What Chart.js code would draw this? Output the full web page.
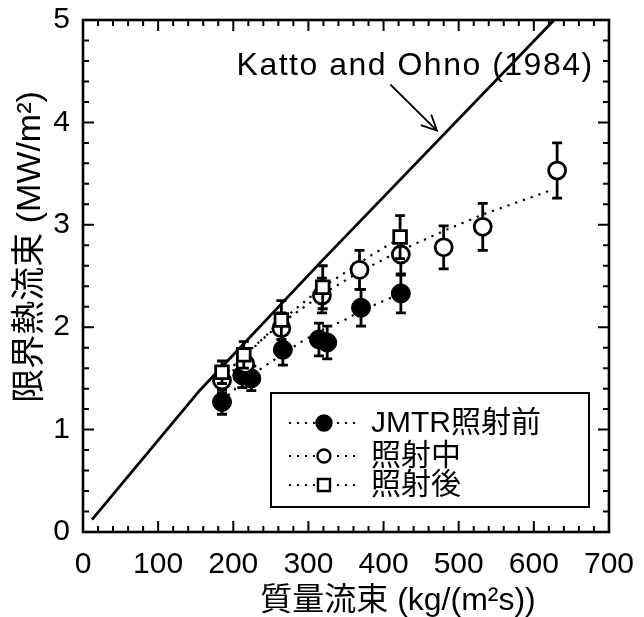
<!DOCTYPE html>
<html>
<head>
<meta charset="utf-8">
<script src="https://cdn.jsdelivr.net/npm/chart.js@4.4.1/dist/chart.umd.min.js"></script>
<style>
  html, body { margin: 0; padding: 0; background: #fff; }
  #wrap { width: 644px; height: 617px; }
</style>
</head>
<body>
<div id="wrap"><canvas id="chf" width="644" height="617"></canvas></div>
<script>
// Mass flux G [kg/(m2 s)] and critical heat flux q [MW/m2]
const beforeG   = [185, 212, 224, 266, 314, 325, 370, 423];
const beforeQ   = [1.27, 1.53, 1.50, 1.78, 1.88, 1.85, 2.19, 2.33];
const beforeErr = [0.12, 0.12, 0.12, 0.15, 0.16, 0.16, 0.18, 0.19];

const duringG   = [185, 216, 264, 318, 368, 423, 480, 532, 631];
const duringQ   = [1.48, 1.64, 1.99, 2.31, 2.56, 2.71, 2.78, 2.98, 3.53];
const duringErr = [0.12, 0.13, 0.15, 0.17, 0.19, 0.20, 0.21, 0.23, 0.27];

const afterG    = [185, 214, 264, 319, 422];
const afterQ    = [1.56, 1.73, 2.07, 2.39, 2.88];
const afterErr  = [0.11, 0.13, 0.19, 0.21, 0.21];

// Fitted trend curves (dotted)
const beforeFitG = [185, 212, 236, 266, 289, 320, 348, 370, 395, 423];
const beforeFitQ = [1.28, 1.46, 1.59, 1.74, 1.85, 1.98, 2.07, 2.16, 2.24, 2.33];
const duringFitG = [185, 216, 264, 318, 368, 423, 480, 532, 620];
const duringFitQ = [1.51, 1.74, 2.04, 2.32, 2.54, 2.75, 2.94, 3.10, 3.33];
const afterFitG  = [185, 214, 238, 264, 288, 319, 348, 383, 422];
const afterFitQ  = [1.45, 1.70, 1.88, 2.06, 2.21, 2.39, 2.53, 2.70, 2.87];

// Katto and Ohno (1984) correlation
const kattoG = [12, 155, 317, 627];
const kattoQ = [0.12, 1.38, 2.64, 5.0];

// Axis ticks
const xTickValues = [0, 100, 200, 300, 400, 500, 600, 700];
const yTickValues = [0, 1, 2, 3, 4, 5];
const xMinorStep = 20;
const yMinorStep = 0.2;

const seriesNames = ['JMTR照射前', '照射中', '照射後'];
const kattoName = 'Katto and Ohno (1984)';
const xTitle = '質量流束 (kg/(m²s))';
const yTitle = '限界熱流束 (MW/m²)';

const FONT = "'Liberation Sans', Arial, 'Noto Sans CJK JP', sans-serif";

const pts = (xs, ys) => xs.map((g, i) => ({ x: g, y: ys[i] }));

const dotted = {
  type: 'line', borderColor: '#000', borderWidth: 2.2, borderDash: [2.2, 6],
  pointRadius: 0, fill: false, tension: 0
};

function drawMarker(ctx, style, filled, r, x, y, lw) {
  ctx.save();
  ctx.lineWidth = lw;
  ctx.strokeStyle = '#000';
  ctx.fillStyle = filled ? '#000' : '#fff';
  ctx.beginPath();
  if (style === 'rect') {
    const s = r * Math.SQRT1_2;
    ctx.rect(x - s, y - s, 2 * s, 2 * s);
  } else {
    ctx.arc(x, y, r, 0, Math.PI * 2);
  }
  ctx.fill();
  ctx.stroke();
  ctx.restore();
}

// vertical error bars with caps, drawn just under each series' markers
const errorBars = {
  id: 'errorBars',
  beforeDatasetDraw(chart, args) {
    const ds = chart.data.datasets[args.index];
    if (!ds.errors) return;
    const { ctx, scales: { x, y } } = chart;
    ctx.save();
    ctx.strokeStyle = '#000';
    ctx.lineWidth = 2.8;
    ctx.beginPath();
    ds.data.forEach((p, i) => {
      const e = ds.errors[i];
      const px = x.getPixelForValue(p.x);
      const top = y.getPixelForValue(p.y + e);
      const bot = y.getPixelForValue(p.y - e);
      ctx.moveTo(px, top); ctx.lineTo(px, bot);
      ctx.moveTo(px - 5, top); ctx.lineTo(px + 5, top);
      ctx.moveTo(px - 5, bot); ctx.lineTo(px + 5, bot);
    });
    ctx.stroke();
    ctx.restore();
  }
};

// boxed frame with inward major/minor ticks on all four sides
const frameTicks = {
  id: 'frameTicks',
  afterDatasetsDraw(chart) {
    const { ctx, chartArea: a, scales: { x, y } } = chart;
    ctx.save();
    ctx.strokeStyle = '#000';
    ctx.lineWidth = 2;
    ctx.beginPath();
    const xMax = xTickValues[xTickValues.length - 1];
    for (let k = 0; k * xMinorStep <= xMax + 1e-9; k++) {
      const v = k * xMinorStep;
      const px = x.getPixelForValue(v);
      const len = xTickValues.includes(v) ? 11 : 6;
      ctx.moveTo(px, a.bottom); ctx.lineTo(px, a.bottom - len);
      ctx.moveTo(px, a.top); ctx.lineTo(px, a.top + len);
    }
    const yMax = yTickValues[yTickValues.length - 1];
    for (let k = 0; k * yMinorStep <= yMax + 1e-9; k++) {
      const v = +(k * yMinorStep).toFixed(3);
      const py = y.getPixelForValue(v);
      const len = yTickValues.includes(v) ? 11 : 6;
      ctx.moveTo(a.left, py); ctx.lineTo(a.left + len, py);
      ctx.moveTo(a.right, py); ctx.lineTo(a.right - len, py);
    }
    ctx.stroke();
    ctx.lineWidth = 2.6;
    ctx.strokeRect(a.left, a.top, a.right - a.left, a.bottom - a.top);
    ctx.restore();
  }
};

// correlation label with arrow, legend box and axis titles
const annotations = {
  id: 'annotations',
  afterDraw(chart) {
    const { ctx, chartArea: a, scales: { x, y } } = chart;
    ctx.save();
    ctx.fillStyle = '#000';
    ctx.strokeStyle = '#000';

    ctx.font = '32px ' + FONT;
    if ('letterSpacing' in ctx) ctx.letterSpacing = '1.5px';
    ctx.textAlign = 'center';
    ctx.textBaseline = 'middle';
    ctx.fillText(kattoName, x.getPixelForValue(442), y.getPixelForValue(4.55));
    if ('letterSpacing' in ctx) ctx.letterSpacing = '0px';
    const ax0 = x.getPixelForValue(409), ay0 = y.getPixelForValue(4.37);
    const ax1 = x.getPixelForValue(471), ay1 = y.getPixelForValue(3.92);
    ctx.lineWidth = 1.8;
    ctx.beginPath();
    ctx.moveTo(ax0, ay0); ctx.lineTo(ax1, ay1);
    const ang = Math.atan2(ay1 - ay0, ax1 - ax0);
    const hl = 17, hw = 0.45;
    ctx.moveTo(ax1 - hl * Math.cos(ang - hw), ay1 - hl * Math.sin(ang - hw));
    ctx.lineTo(ax1, ay1);
    ctx.lineTo(ax1 - hl * Math.cos(ang + hw), ay1 - hl * Math.sin(ang + hw));
    ctx.stroke();

    const bx = a.right - 338, by = a.bottom - 139, bw = 318, bh = 114;
    ctx.lineWidth = 2;
    ctx.fillStyle = '#fff';
    ctx.fillRect(bx, by, bw, bh);
    ctx.strokeRect(bx, by, bw, bh);
    const rows = [by + 30, by + 63, by + 92];
    const styles = [
      { style: 'circle', filled: true, r: 7.5 },
      { style: 'circle', filled: false, r: 6.5 },
      { style: 'rect', filled: false, r: 8.5 }
    ];
    ctx.font = '30px ' + FONT;
    ctx.textAlign = 'left';
    ctx.textBaseline = 'middle';
    rows.forEach((ry, i) => {
      ctx.save();
      ctx.lineWidth = 2;
      ctx.setLineDash([2, 6]);
      ctx.beginPath();
      ctx.moveTo(bx + 18, ry); ctx.lineTo(bx + 90, ry);
      ctx.stroke();
      ctx.restore();
      drawMarker(ctx, styles[i].style, styles[i].filled, styles[i].r, bx + 53, ry, 2.4);
      ctx.fillStyle = '#000';
      ctx.fillText(seriesNames[i], bx + 100, ry + 1);
    });

    ctx.font = '32px ' + FONT;
    ctx.textAlign = 'center';
    ctx.textBaseline = 'middle';
    ctx.fillText(xTitle, 398, 601);
    ctx.font = '34px ' + FONT;
    ctx.save();
    ctx.translate(31, 247);
    ctx.rotate(-Math.PI / 2);
    ctx.fillText(yTitle, 0, 0);
    ctx.restore();
    ctx.restore();
  }
};

new Chart(document.getElementById('chf'), {
  type: 'scatter',
  data: {
    datasets: [
      { label: kattoName, type: 'line', data: pts(kattoG, kattoQ), borderColor: '#000',
        borderWidth: 2.8, pointRadius: 0, fill: false, tension: 0, order: 10 },
      { label: seriesNames[0] + ' fit', ...dotted, data: pts(beforeFitG, beforeFitQ), order: 9 },
      { label: seriesNames[1] + ' fit', ...dotted, data: pts(duringFitG, duringFitQ), order: 8 },
      { label: seriesNames[2] + ' fit', ...dotted, data: pts(afterFitG, afterFitQ), order: 7 },
      { label: seriesNames[0], data: pts(beforeG, beforeQ), errors: beforeErr,
        pointStyle: 'circle', pointRadius: 9.5, backgroundColor: '#000', borderColor: '#000',
        borderWidth: 1, order: 3 },
      { label: seriesNames[1], data: pts(duringG, duringQ), errors: duringErr,
        pointStyle: 'circle', pointRadius: 8.5, backgroundColor: '#fff', borderColor: '#000',
        borderWidth: 2.8, order: 2 },
      { label: seriesNames[2], data: pts(afterG, afterQ), errors: afterErr,
        pointStyle: 'rect', pointRadius: 9, backgroundColor: '#fff', borderColor: '#000',
        borderWidth: 2.8, order: 1 }
    ]
  },
  options: {
    responsive: false,
    devicePixelRatio: 1,
    animation: false,
    events: [],
    layout: { padding: { top: 17, right: 31, left: 0, bottom: 0 } },
    plugins: { legend: { display: false }, tooltip: { enabled: false } },
    scales: {
      x: {
        type: 'linear', position: 'bottom', min: 0, max: 700,
        grid: { display: false }, border: { display: false },
        afterBuildTicks: s => { s.ticks = xTickValues.map(v => ({ value: v })); },
        afterFit: s => { s.height = 85; },
        ticks: { color: '#000', padding: 10, maxRotation: 0, autoSkip: false,
                 font: { family: FONT, size: 30, lineHeight: 1 } }
      },
      y: {
        type: 'linear', position: 'left', min: 0, max: 5,
        grid: { display: false }, border: { display: false },
        afterBuildTicks: s => { s.ticks = yTickValues.map(v => ({ value: v })); },
        afterFit: s => { s.width = 83; },
        ticks: { color: '#000', padding: 5, autoSkip: false,
                 font: { family: FONT, size: 30, lineHeight: 1 } }
      }
    }
  },
  plugins: [errorBars, frameTicks, annotations]
});
</script>
</body>
</html>
